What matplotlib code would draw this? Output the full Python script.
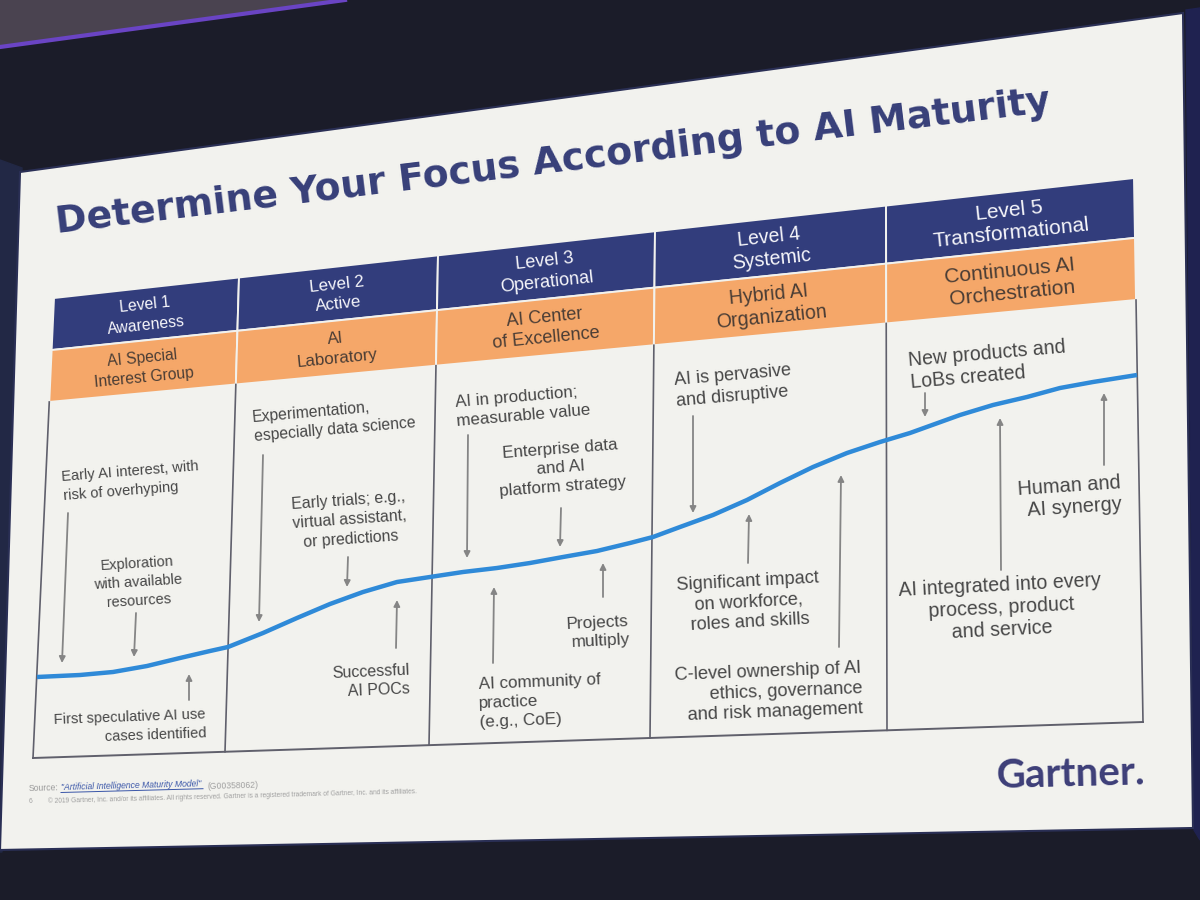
import numpy as np
import matplotlib.pyplot as plt
from matplotlib.patches import Polygon, FancyArrowPatch

plt.rcParams['font.family'] = ['Liberation Sans', 'DejaVu Sans']

# ---------------------------------------------------------------- texts / data
title = "Determine Your Focus According to AI Maturity"

levels = ["Level 1\nAwareness", "Level 2\nActive", "Level 3\nOperational",
          "Level 4\nSystemic", "Level 5\nTransformational"]
org_forms = ["AI Special\nInterest Group", "AI\nLaboratory", "AI Center\nof Excellence",
             "Hybrid AI\nOrganization", "Continuous AI\nOrchestration"]

notes = [
    "Early AI interest, with\nrisk of overhyping",
    "Exploration\nwith available\nresources",
    "First speculative AI use\ncases identified",
    "Experimentation,\nespecially data science",
    "Early trials; e.g.,\nvirtual assistant,\nor predictions",
    "Successful\nAI POCs",
    "AI in production;\nmeasurable value",
    "Enterprise data\nand AI\nplatform strategy",
    "Projects\nmultiply",
    "AI community of\npractice\n(e.g., CoE)",
    "AI is pervasive\nand disruptive",
    "Significant impact\non workforce,\nroles and skills",
    "C-level ownership of AI\nethics, governance\nand risk management",
    "New products and\nLoBs created",
    "AI integrated into every\nprocess, product\nand service",
    "Human and\nAI synergy",
]
note_align = ["left", "center", "right", "left", "center", "right", "left", "center",
              "right", "left", "left", "center", "right", "left", "center", "right"]

# maturity curve as seen in the photo (pixel positions)
curve_x = [37, 80, 113, 147, 180, 210, 228, 263, 297, 330, 363, 397, 430, 463, 497,
           530, 563, 597, 630, 653, 680, 713, 747, 780, 813, 847, 880, 910, 960, 993,
           1027, 1060, 1093, 1137]
curve_y = [677, 675, 672, 666, 658, 651, 647, 633, 618, 604, 592, 582, 577, 572, 568,
           563, 557, 551, 543, 537, 527, 515, 500, 483, 467, 453, 442, 433, 415, 405,
           397, 388, 382, 375]

source_txt = "Source:"
source_link = "\"Artificial Intelligence Maturity Model\""
source_id = "(G00358062)"
copyright_txt = ("\u00a9 2019 Gartner, Inc. and/or its affiliates. All rights reserved. "
                 "Gartner is a registered trademark of Gartner, Inc. and its affiliates.")
page_no = "6"
logo = "Gartner."

# ---------------------------------------------------------------- layout (photo pixels)
note_x = [131, 138, 130, 334, 350, 371, 523, 561, 598, 540, 734, 749, 769, 988, 1001, 1070]
note_y = [481, 582, 727, 420, 520, 681, 406, 468, 632, 701, 386, 602, 692, 365, 608, 497]

arrow_x0 = [68, 136, 189, 263, 348, 396, 468, 561, 603, 493, 693, 748, 839, 925, 1001, 1104]
arrow_y0 = [513, 613, 700, 455, 557, 648, 435, 508, 597, 663, 416, 563, 647, 393, 570, 465]
arrow_x1 = [62, 134, 189, 259, 347, 397, 467, 560, 603, 494, 693, 749, 841, 925, 1000, 1104]
arrow_y1 = [663, 657, 674, 622, 587, 600, 558, 547, 563, 587, 513, 514, 475, 417, 418, 393]

# horizontal rules of the table: two points each
L_top = ((54, 298), (1134, 178))
L_mid = ((52, 350), (1134, 238))
L_obot = ((49, 402), (1136, 300))
L_bot = ((33, 758), (1143, 722))
div_top_x = [54, 239, 438, 655, 886, 1134]
div_bot_x = [33, 225, 429, 650, 887, 1143]

NAVY = '#323d7c'
ORANGE = '#f5a769'
SLIDE = '#f2f2ee'
GRID = '#60606c'
BLUE = '#2f8ad8'
ARROW = '#858585'
TXT = '#474747'


def line_coef(L):
    (x0, y0), (x1, y1) = L
    b = (y1 - y0) / (x1 - x0)
    return y0 - b * x0, b


def line_y(L, x):
    a, b = line_coef(L)
    return a + b * x


def cross(i, L):
    # point where divider i meets rule L
    xt, xb = div_top_x[i], div_bot_x[i]
    yt, yb = line_y(L_top, xt), line_y(L_bot, xb)
    k = (xb - xt) / (yb - yt)
    a, b = line_coef(L)
    y = (a + b * xt - b * k * yt) / (1 - b * k)
    return xt + (y - yt) * k, y


# vanishing point of the horizontal rules
a1, b1 = line_coef(L_top)
a2, b2 = line_coef(L_bot)
VPX = (a2 - a1) / (b1 - b2)
VPY = a1 + b1 * VPX


def angle_at(x, y):
    return np.degrees(np.arctan2(VPY - y, x - VPX))


def hscale(x):
    return 185 + 0.0729 * (x - 146)


def vscale(x):
    return 460 + 84 * (x - 40) / 1100


def fsize(x):
    return 0.0571 * hscale(x)


def lspace(x):
    rel = (vscale(x) / hscale(x)) / (vscale(750) / hscale(750))
    return 0.9 * rel / 0.716


fig = plt.figure(figsize=(12, 9), dpi=100)
ax = fig.add_axes([0, 0, 1, 1])
ax.set_xlim(0, 1200)
ax.set_ylim(900, 0)
ax.axis('off')

# ---------------------------------------------------------------- room behind the screen
ax.add_patch(Polygon([(0, 0), (1200, 0), (1200, 900), (0, 900)], color='#1b1c29', zorder=0))
ax.add_patch(Polygon([(0, 0), (345, 0), (0, 46)], color='#4a4350', zorder=0))
ax.plot([0, 345], [47, 0], color='#6a44c4', lw=3, zorder=0.5)
ax.add_patch(Polygon([(0, 160), (22, 168), (2, 852), (0, 852)], color='#222845', zorder=0.5))
ax.add_patch(Polygon([(1186, 10), (1200, 8), (1200, 840), (1194, 830)], color='#1f2250', zorder=0.5))

# slide
ax.add_patch(Polygon([(20, 172), (1183, 13), (1193, 828), (0, 850)],
                     facecolor=SLIDE, edgecolor='#2a2f55', lw=1.5, zorder=1))

# title
ax.text(57, 233, title, fontsize=27.2, fontweight='bold', family='DejaVu Sans',
        color='#373f79', rotation=angle_at(57, 233), rotation_mode='anchor',
        ha='left', va='baseline', zorder=5)

# ---------------------------------------------------------------- header bands
for i in range(5):
    for La, Lb, col, txt, tcol in [(L_top, L_mid, NAVY, levels[i], '#f6f6fa'),
                                   (L_mid, L_obot, ORANGE, org_forms[i], '#4a3d35')]:
        p = [cross(i, La), cross(i + 1, La), cross(i + 1, Lb), cross(i, Lb)]
        ax.add_patch(Polygon(p, facecolor=col, edgecolor=SLIDE, lw=1.4, zorder=2))
        cx = np.mean([q[0] for q in p])
        cy = np.mean([q[1] for q in p])
        ax.text(cx, cy + 1, txt, fontsize=1.07 * fsize(cx), color=tcol, ha='center',
                va='center', multialignment='center', rotation=angle_at(cx, cy),
                rotation_mode='anchor', linespacing=lspace(cx), zorder=5)

# body grid
for i in range(6):
    (x0, y0), (x1, y1) = cross(i, L_obot), cross(i, L_bot)
    ax.plot([x0, x1], [y0, y1], color=GRID, lw=1.2, zorder=3)
(x0, y0), (x1, y1) = cross(0, L_bot), cross(5, L_bot)
ax.plot([x0, x1], [y0, y1], color=GRID, lw=1.4, zorder=3)

# maturity curve
ax.plot(curve_x, curve_y, color=BLUE, lw=3.2, solid_capstyle='butt',
        solid_joinstyle='round', zorder=4)

# arrows
for xs, ys, xe, ye in zip(arrow_x0, arrow_y0, arrow_x1, arrow_y1):
    ax.add_patch(FancyArrowPatch((xs, ys), (xe, ye), arrowstyle='-|>', mutation_scale=9,
                                 lw=1.3, color=ARROW, shrinkA=0, shrinkB=0, zorder=4))

# notes
for txt, x, y, al in zip(notes, note_x, note_y, note_align):
    ax.text(x, y, txt, fontsize=fsize(x), color=TXT, ha='center', va='center',
            multialignment=al, rotation=angle_at(x, y), rotation_mode='anchor',
            linespacing=lspace(x), zorder=5)

# ---------------------------------------------------------------- footer
rot = angle_at(150, 790)
ax.text(29, 791, source_txt, fontsize=6.2, color='#9a9a9a', rotation=rot,
        rotation_mode='anchor', ha='left', va='baseline', zorder=5)
ax.text(61, 790, source_link, fontsize=6.2, color='#3a56a8', fontstyle='italic',
        rotation=rot, rotation_mode='anchor', ha='left', va='baseline', zorder=5)
ax.plot([61, 203], [792.5, 788.7], color='#3a56a8', lw=0.7, zorder=5)
ax.text(207, 789, source_id, fontsize=6.2, color='#a0a0a0', rotation=rot,
        rotation_mode='anchor', ha='left', va='baseline', zorder=5)
ax.text(29, 803, page_no, fontsize=4.8, color='#a0a0a0', rotation=rot,
        rotation_mode='anchor', ha='left', va='baseline', zorder=5)
ax.text(48, 803, copyright_txt, fontsize=4.8, color='#a0a0a0', rotation=rot,
        rotation_mode='anchor', ha='left', va='baseline', zorder=5)

ax.text(997, 788, logo, fontsize=29, fontweight='bold', family=['Lato', 'DejaVu Sans'],
        color='#3d3e78', rotation=angle_at(1070, 775), rotation_mode='anchor',
        ha='left', va='baseline', zorder=5)

fig.savefig('out.png', dpi=100)
